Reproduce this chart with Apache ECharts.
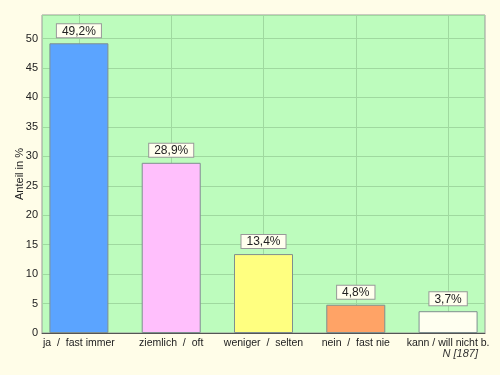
<!DOCTYPE html>
<html><head><meta charset="utf-8">
<script src="https://cdn.jsdelivr.net/npm/echarts@6/dist/echarts.min.js"></script>
<style>html,body{margin:0;padding:0;background:#fffde8}#c{width:500px;height:375px}</style>
</head><body><div id="c"></div>
<script>
var categories = ['ja  /  fast immer', 'ziemlich  /  oft', 'weniger  /  selten', 'nein  /  fast nie', 'kann / will nicht b.'];
var values = [49.2, 28.9, 13.4, 4.8, 3.7];
var barColors = ['#5ba4ff', '#ffbffc', '#ffff80', '#ffa366', '#fffff0'];
var yTicks = [0, 5, 10, 15, 20, 25, 30, 35, 40, 45, 50];
var positions = [0, 1, 2, 3, 4];

var chart = echarts.init(document.getElementById('c'), null, {renderer: 'canvas'});
var font = 'Liberation Sans, Arial, sans-serif';
chart.setOption({
  backgroundColor: '#fffde8',
  animation: false,
  grid: {left: 42, top: 15, right: 15, bottom: 42, outerBoundsMode: 'none', containLabel: false,
         show: true, backgroundColor: '#bdfcbd', borderColor: '#999999', borderWidth: 1},
  xAxis: {
    type: 'value', min: -0.4, max: 4.4,
    axisLine: {show: true, onZero: false, lineStyle: {color: '#555', width: 1}},
    axisTick: {show: false},
    splitLine: {show: false},
    axisLabel: {
      customValues: positions,
      color: '#222', fontFamily: font, fontSize: 10.5, margin: 5,
      formatter: function (v) { return categories[Math.round(v)]; }
    }
  },
  yAxis: {
    type: 'value', min: 0, max: 54, interval: 5,
    name: 'Anteil in %', nameLocation: 'middle', nameGap: 17, nameMoveOverlap: false,
    nameTextStyle: {color: '#222', fontFamily: font, fontSize: 11},
    axisLine: {show: true, lineStyle: {color: '#555', width: 1}},
    axisTick: {show: false},
    axisLabel: {
      color: '#222', fontFamily: font, fontSize: 11, margin: 4,
      formatter: function (v) { return yTicks.indexOf(v) >= 0 ? String(v) : ''; }
    },
    splitLine: {lineStyle: {color: '#9fd99f', width: 1}}
  },
  series: [{
    type: 'bar',
    barWidth: 59,
    data: values.map(function (v, i) {
      return {value: [positions[i], v], itemStyle: {color: barColors[i]}};
    }),
    itemStyle: {borderColor: '#7f8f8f', borderWidth: 1},
    label: {
      show: true, position: 'top', distance: 6,
      formatter: function (p) { return String(p.value[1]).replace('.', ',') + '%'; },
      color: '#222', fontFamily: font, fontSize: 12,
      backgroundColor: '#ffffee', borderColor: '#999', borderWidth: 1, padding: [1, 5, 0, 5]
    },
    z: 3
  }, {
    type: 'line',
    data: [],
    z: 1,
    markLine: {
      silent: true, symbol: 'none', label: {show: false}, z: 1,
      lineStyle: {color: '#9fd99f', width: 1, type: 'solid'},
      data: positions.map(function (p) { return {xAxis: p}; })
    }
  }],
  graphic: [{
    type: 'text', right: 22, top: 348,
    style: {text: 'N [187]', fill: '#333', font: 'italic 11px Liberation Sans, Arial, sans-serif'}
  }]
});
</script></body></html>
